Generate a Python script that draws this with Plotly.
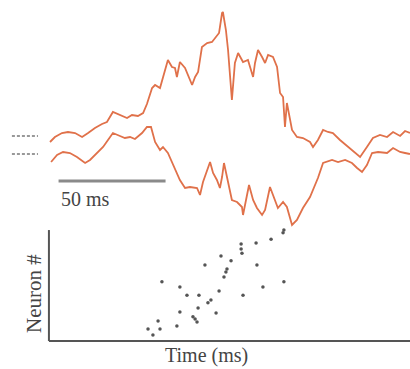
import plotly.graph_objects as go

# --- Traces (time in ms, amplitude in arbitrary units) ---
t_upper = [0.0, 2.3, 5.6, 8.4, 11.7, 15.0, 17.8, 21.0, 24.3, 26.6, 29.4, 32.7, 36.0, 38.3,
           41.1, 43.5, 45.3, 47.7, 49.1, 51.4, 53.7, 55.1, 57.0, 58.4, 59.3, 60.7, 63.1, 65.4,
           66.4, 67.8, 69.2, 71.0, 73.4, 75.7, 77.1, 79.0, 80.4, 80.8, 82.2, 83.2, 85.0, 86.4,
           87.9, 90.2, 92.5, 94.9, 95.8, 97.2, 99.1, 100.5, 101.9, 104.2, 106.1, 107.5, 108.9,
           109.8, 110.7, 113.1, 115.4, 118.2, 121.5, 122.9, 125.2, 127.6, 129.9, 132.2, 135.5,
           139.3, 142.5, 144.9, 148.1, 150.9, 154.2, 157.5, 160.3, 163.6, 165.9, 168.2]
v_upper = [1.8, 2.3, 2.7, 2.8, 2.7, 2.3, 2.7, 3.2, 3.6, 3.8, 4.8, 4.5, 4.2, 4.5,
           4.4, 4.7, 5.6, 7.2, 7.5, 7.2, 8.8, 10.0, 9.3, 9.2, 8.3, 9.8, 9.2, 8.0,
           7.5, 8.3, 8.8, 11.3, 11.7, 11.8, 12.2, 12.7, 14.7, 14.8, 13.0, 11.0, 6.0, 9.7,
           10.7, 9.8, 10.0, 8.3, 9.7, 11.0, 10.3, 9.7, 10.5, 10.3, 9.3, 6.7, 6.3,
           3.3, 5.7, 3.0, 2.3, 2.2, 1.8, 1.3, 2.0, 3.0, 2.8, 2.7, 2.0,
           1.3, 0.7, 0.3, 1.3, 2.2, 2.5, 2.3, 2.8, 2.4, 2.9, 2.7]

t_lower = [0.5, 3.3, 6.1, 9.3, 12.6, 16.4, 18.7, 22.0, 24.8, 27.1, 29.4, 32.7, 35.0, 37.4,
           39.7, 43.0, 45.3, 47.2, 49.1, 51.4, 52.8, 55.1, 58.4, 60.7, 63.1, 65.4, 68.7, 70.1,
           71.5, 73.4, 74.8, 76.2, 78.0, 79.4, 80.4, 81.3, 82.7, 85.0, 87.4, 89.7, 90.2, 92.1,
           93.0, 94.9, 96.7, 99.1, 100.5, 102.8, 105.1, 106.5, 108.9, 110.7, 113.1, 115.4,
           118.2, 121.5, 125.2, 127.6, 131.8, 134.6, 137.9, 141.1, 143.5, 145.8, 148.1, 150.5,
           153.3, 157.5, 160.3, 163.6, 165.9, 168.2]
v_lower = [-0.2, 0.5, 0.8, 0.7, 0.3, -0.3, 0.0, 0.7, 1.3, 2.0, 2.7, 2.4, 2.2, 2.3,
           2.1, 2.7, 3.3, 3.3, 1.8, 1.0, 1.3, 0.7, -1.0, -2.0, -2.8, -2.7, -2.8, -3.5,
           -2.2, -1.0, -0.2, -1.3, -2.0, -2.8, -1.7, -0.3, -1.7, -4.0, -4.2, -4.7, -5.5, -3.3,
           -2.5, -4.0, -4.8, -5.5, -5.0, -2.7, -4.0, -4.8, -4.2, -4.7, -6.5, -6.0,
           -4.8, -3.7, -1.8, -0.3, 0.0, -0.2, 0.0, -0.3, -0.8, -1.2, -0.5, 0.7,
           0.8, 0.7, 1.2, 0.8, 0.7, 0.6]

# --- Raster (spike time in ms, neuron index) ---
spike_t = [45.8, 48.1, 50.5, 51.4, 52.3, 59.3, 60.7, 60.7, 64.0, 66.8, 67.8, 68.7, 69.2, 69.6,
           72.4, 73.8, 75.2, 77.6, 79.0, 79.9, 81.3, 82.2, 82.7, 84.6, 89.3, 89.3, 89.7, 90.2,
           96.3, 96.7, 99.5, 103.3, 108.9, 109.3, 109.3]
spike_n = [3.4, 1.7, 5.7, 3.4, 16.9, 4.3, 8.3, 15.4, 13.1, 6.9, 6.3, 5.4, 9.4, 13.1,
           21.7, 10.9, 11.7, 8.0, 14.3, 24.3, 18.3, 19.7, 20.6, 22.9, 27.7, 26.3, 25.1, 13.1,
           28.0, 21.7, 15.4, 29.1, 30.9, 31.7, 16.9]

# scale bar & labels
scale_bar_ms = [4, 54]
scale_label = "50 ms"
x_label = "Time (ms)"
y_label = "Neuron #"

trace_color = "#E0714A"
gray = "#8a8a8a"
serif = "Liberation Serif, Times New Roman, serif"

fig = go.Figure()
fig.add_trace(go.Scatter(x=t_upper, y=v_upper, mode="lines",
                         line=dict(color=trace_color, width=1.8), hoverinfo="skip"))
fig.add_trace(go.Scatter(x=t_lower, y=v_lower, mode="lines",
                         line=dict(color=trace_color, width=1.8), hoverinfo="skip"))
fig.add_trace(go.Scatter(x=spike_t, y=spike_n, mode="markers", yaxis="y2",
                         marker=dict(color="#555555", size=3.5), hoverinfo="skip"))

# left dashed baseline markers
for v in [2.4, 0.6]:
    fig.add_trace(go.Scatter(x=[-17.8, -5.6], y=[v, v], mode="lines",
                             line=dict(color="#999999", width=2, dash="3px,2px"), hoverinfo="skip"))

# scale bar
fig.add_trace(go.Scatter(x=scale_bar_ms, y=[-2.1, -2.1], mode="lines",
                         line=dict(color=gray, width=3), hoverinfo="skip"))

fig.add_annotation(x=scale_bar_ms[0], y=-3.9, xref="x", yref="y", text=scale_label,
                   showarrow=False, xanchor="left", yanchor="middle",
                   font=dict(family=serif, size=20, color="#444444"))

# raster axes
fig.add_shape(type="line", xref="x", yref="y2", x0=-0.5, x1=-0.5, y0=0, y1=31.7,
              line=dict(color="#555555", width=2))
fig.add_shape(type="line", xref="x", yref="y2", x0=-0.5, x1=168.5, y0=0, y1=0,
              line=dict(color="#555555", width=2))

fig.add_annotation(x=206 / 410, y=1 - 355 / 369, xref="paper", yref="paper", text=x_label,
                   showarrow=False, xanchor="center", yanchor="middle",
                   font=dict(family=serif, size=20, color="#444444"))
fig.add_annotation(x=34 / 410, y=1 - 294 / 369, xref="paper", yref="paper", text=y_label,
                   showarrow=False, xanchor="center", yanchor="middle", textangle=-90,
                   font=dict(family=serif, size=21, color="#444444"))

fig.update_layout(
    width=410, height=369, margin=dict(l=0, r=0, t=0, b=0),
    paper_bgcolor="white", plot_bgcolor="white", showlegend=False,
    xaxis=dict(range=[-50 / 2.14, 360 / 2.14], visible=False, fixedrange=True),
    yaxis=dict(range=[(160 - 369) / 10, 160 / 10], visible=False, domain=[0, 1]),
    yaxis2=dict(range=[(341 - 369) / 3.5, 341 / 3.5], visible=False, overlaying="y"),
)

fig.write_html("out.html")
